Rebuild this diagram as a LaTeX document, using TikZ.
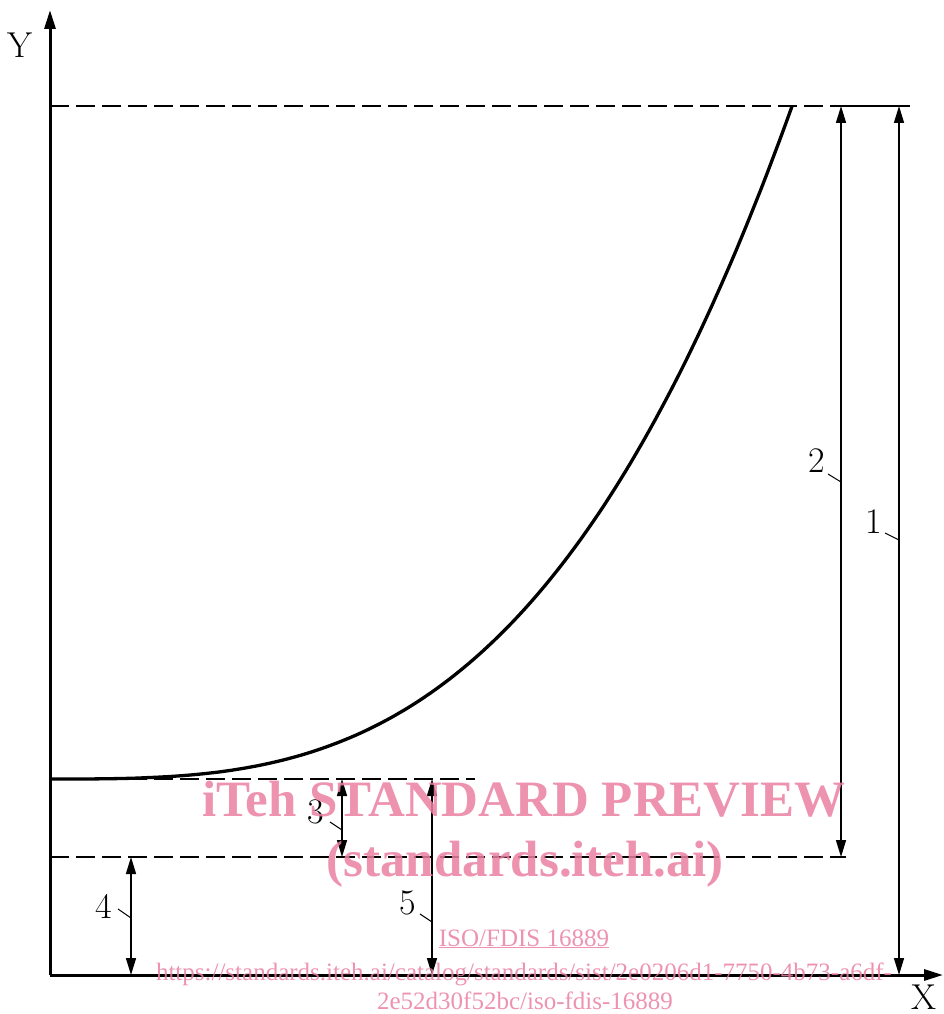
\documentclass[tikz,border=0pt]{standalone}
\usepackage{fontspec}
\newfontfamily\wmfont{Liberation Serif}
\usetikzlibrary{arrows.meta}
\definecolor{wmpink}{RGB}{234,128,162}
\begin{document}
\begin{tikzpicture}[x=1pt,y=-1pt,
  axis/.style={line width=3pt,-{Triangle[length=19pt,width=11pt]}},
  guide/.style={line width=2pt,dash pattern=on 19pt off 7pt},
  extline/.style={line width=1.4pt},
  dimline/.style={line width=1.5pt,{Triangle[length=17pt,width=10pt]}-{Triangle[length=17pt,width=10pt]}},
  leader/.style={line width=1pt},
  lbl/.style={font=\fontsize{36}{36}\selectfont,inner sep=0pt},
  wmbig/.style={font=\wmfont\bfseries\fontsize{51}{51}\selectfont,text=wmpink,text opacity=0.85,inner sep=0pt,anchor=base},
  wmsmall/.style={font=\wmfont\fontsize{25}{25}\selectfont,text=wmpink,text opacity=0.85,inner sep=0pt,anchor=base}]
\useasboundingbox (0,0) rectangle (943,1014);
% axes
\coordinate (O) at (50,975);
\coordinate (Ytip) at (50,10);
\coordinate (Xtip) at (943,975);
\draw[axis] (O) -- (Ytip);
\draw[axis] (O) -- (Xtip);
\node[lbl] (ylab) at (20,45) {Y};
\node[lbl] (xlab) at (924,997) {X};
% guide lines
\coordinate (topL) at (50,106);
\coordinate (topM) at (830,106);
\coordinate (topR) at (910,106);
\coordinate (midL) at (50,779);
\coordinate (midR) at (475,779);
\coordinate (lowL) at (50,857);
\coordinate (lowR) at (846,857);
\draw[guide] (topL) -- (topM);
\draw[extline] (topM) -- (topR);
\draw[guide] (midL) -- (midR);
\draw[guide] (lowL) -- (lowR);
% curve
\draw[line width=3.3pt,line join=round] (midL) --
  plot[domain=52:792,samples=120] (\x,{779-673*((\x-50)/742)^3.08});
% dimension lines
\coordinate (d1a) at (899,106); \coordinate (d1b) at (899,975);
\coordinate (d2a) at (841,106); \coordinate (d2b) at (841,857);
\coordinate (d3a) at (342,779); \coordinate (d3b) at (342,857);
\coordinate (d4a) at (131,857); \coordinate (d4b) at (131,975);
\coordinate (d5a) at (432,779); \coordinate (d5b) at (432,975);
\draw[dimline] (d1a) -- (d1b);
\draw[dimline] (d2a) -- (d2b);
\draw[dimline] (d3a) -- (d3b);
\draw[dimline] (d4a) -- (d4b);
\draw[dimline] (d5a) -- (d5b);
% labels and leaders
\node[lbl] (l1) at (874,522) {1};
\node[lbl] (l2) at (817,461) {2};
\node[lbl] (l3) at (316,812) {3};
\node[lbl] (l4) at (104,906) {4};
\node[lbl] (l5) at (408,903) {5};
\coordinate (t1) at (899,540); \coordinate (s1) at (885,533);
\coordinate (t2) at (841,482); \coordinate (s2) at (828,474);
\coordinate (t3) at (342,830); \coordinate (s3) at (330,822);
\coordinate (t4) at (131,918); \coordinate (s4) at (118,909);
\coordinate (t5) at (432,922); \coordinate (s5) at (420,914);
\draw[leader] (s1) -- (t1);
\draw[leader] (s2) -- (t2);
\draw[leader] (s3) -- (t3);
\draw[leader] (s4) -- (t4);
\draw[leader] (s5) -- (t5);
% watermark
\node[wmbig] (wm1) at (524,816) {iTeh STANDARD PREVIEW};
\node[wmbig] (wm2) at (525,876) {(standards.iteh.ai)};
\node[wmsmall] (wm3) at (524,946) {\underline{ISO/FDIS 16889}};
\node[wmsmall] (wm4) at (524,980) {https://standards.iteh.ai/catalog/standards/sist/2e0206d1-7750-4b73-a6df-};
\node[wmsmall] (wm5) at (525,1009) {2e52d30f52bc/iso-fdis-16889};
\end{tikzpicture}
\end{document}
